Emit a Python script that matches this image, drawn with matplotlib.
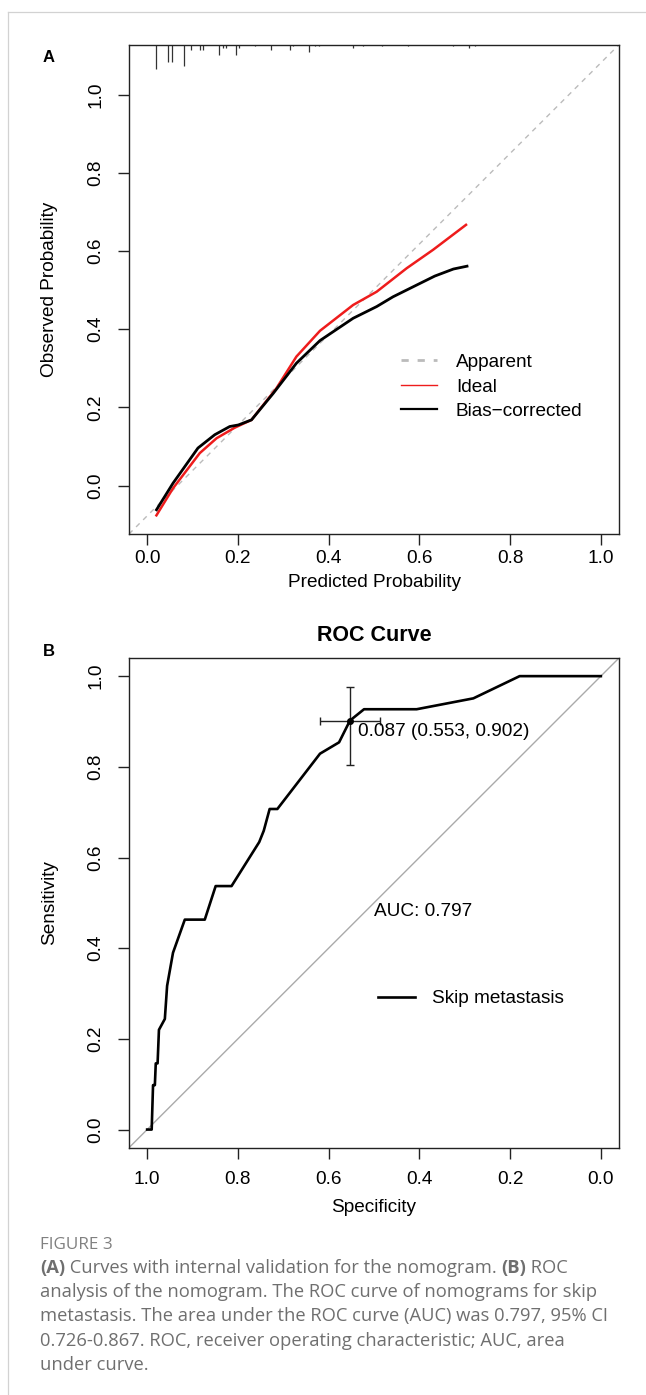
import numpy as np
import matplotlib
matplotlib.use("Agg")
from matplotlib import pyplot as plt
from matplotlib.lines import Line2D

plt.rcParams['font.family'] = ['Liberation Sans', 'DejaVu Sans']

#======================================================================================================
# Panel A: calibration curves (predicted vs observed probability)
pred_ideal = [0.019, 0.057, 0.116, 0.153, 0.193, 0.230, 0.285, 0.329, 0.381, 0.454, 0.506, 0.572, 0.630, 0.705]
obs_ideal  = [-0.079, -0.007, 0.083, 0.121, 0.148, 0.168, 0.249, 0.330, 0.396, 0.462, 0.496, 0.556, 0.603, 0.669]

pred_bias  = [0.019, 0.057, 0.112, 0.149, 0.182, 0.201, 0.230, 0.278, 0.329, 0.381, 0.454, 0.506, 0.542, 0.594, 0.634, 0.675, 0.708]
obs_bias   = [-0.065, 0.006, 0.096, 0.130, 0.151, 0.155, 0.168, 0.236, 0.313, 0.371, 0.428, 0.458, 0.483, 0.513, 0.536, 0.554, 0.562]

# distribution of predicted probabilities (rug at top of panel A)
rug_pred  = [0.019, 0.046, 0.054, 0.082, 0.096, 0.117, 0.123, 0.159, 0.168, 0.174, 0.195, 0.202, 0.237,
             0.272, 0.314, 0.321, 0.356, 0.371, 0.378, 0.454, 0.476, 0.518, 0.575, 0.674, 0.709, 0.722]
rug_count = [14, 10, 10, 12, 3, 3, 3, 6, 2, 2, 6, 2, 1, 3, 3, 1, 4, 1, 1, 2, 1, 1, 1, 1, 2, 1]

# Panel B: ROC curve
specificity = [1.000, 0.990, 0.987, 0.983, 0.981, 0.977, 0.974, 0.961, 0.956, 0.943, 0.917, 0.873, 0.849,
               0.814, 0.753, 0.743, 0.730, 0.713, 0.619, 0.577, 0.553, 0.522, 0.406, 0.281, 0.179, 0.000]
sensitivity = [0.000, 0.000, 0.098, 0.098, 0.146, 0.146, 0.220, 0.244, 0.317, 0.390, 0.463, 0.463, 0.537,
               0.537, 0.634, 0.659, 0.707, 0.707, 0.829, 0.854, 0.902, 0.927, 0.927, 0.951, 1.000, 1.000]
best_thr  = 0.087
best_spec = 0.553
best_sens = 0.902
spec_ci   = [0.487, 0.619]
sens_ci   = [0.805, 0.975]
auc       = 0.797

caption_head = "FIGURE 3"
caption_lines = [
    [("(A)", "bold"), (" Curves with internal validation for the nomogram. ", "normal"), ("(B)", "bold"), (" ROC", "normal")],
    [("analysis of the nomogram. The ROC curve of nomograms for skip", "normal")],
    [("metastasis. The area under the ROC curve (AUC) was 0.797, 95% CI", "normal")],
    [("0.726-0.867. ROC, receiver operating characteristic; AUC, area", "normal")],
    [("under curve.", "normal")],
]

#======================================================================================================
W, H = 646, 1395
FS = 13.7


def style_axes(ax):
    for s in ax.spines.values():
        s.set_linewidth(1.0)
        s.set_color('#222222')
    ax.set_xticks(np.arange(0, 1.01, 0.2))
    ax.set_yticks(np.arange(0, 1.01, 0.2))
    ax.set_xticklabels([f"{v:.1f}" for v in np.arange(0, 1.01, 0.2)])
    ax.set_yticklabels([f"{v:.1f}" for v in np.arange(0, 1.01, 0.2)], rotation=90, va='center')
    ax.tick_params(length=8.2, width=1.0, color='#222222', labelsize=FS)


def draw_calibration(ax):
    ax.set_xlim(-0.04, 1.04)
    ax.set_ylim(-0.124, 1.128)
    style_axes(ax)
    ax.tick_params(axis='x', pad=3.5)
    ax.tick_params(axis='y', pad=9.5)

    ax.plot([0, 1], [0, 1], transform=ax.transAxes, color='#bbbbbb', lw=1.0, dashes=(3.6, 3.6))
    ax.plot(pred_ideal, obs_ideal, color='#ee1c1c', lw=1.8, solid_capstyle='butt')
    ax.plot(pred_bias, obs_bias, color='black', lw=2.0, solid_capstyle='butt')

    top = ax.get_ylim()[1]
    seg = np.array(rug_count) * 0.0045
    ax.vlines(rug_pred, top - seg, top, color='#333333', lw=0.9)

    handles = [Line2D([], [], color='#bbbbbb', lw=2.0, dashes=(2.6, 3.2)),
               Line2D([], [], color='#ee1c1c', lw=1.0),
               Line2D([], [], color='black', lw=1.6)]
    ax.legend(handles, ['Apparent', 'Ideal', 'Bias\u2212corrected'], loc='upper left',
              bbox_to_anchor=(0.536, 0.388), frameon=False, fontsize=FS, borderpad=0,
              handlelength=1.87, handletextpad=1.0, labelspacing=0.38)

    ax.set_xlabel('Predicted Probability', fontsize=FS)
    ax.set_ylabel('Observed Probability', fontsize=FS)
    ax.xaxis.set_label_coords(0.5, -0.081)
    ax.yaxis.set_label_coords(-0.145, 0.5)


def draw_roc(ax):
    ax.set_xlim(1.04, -0.04)
    ax.set_ylim(-0.04, 1.04)
    style_axes(ax)
    ax.tick_params(axis='x', pad=8.5)
    ax.tick_params(axis='y', pad=9.5)

    ax.axline((1, 0), (0, 1), color='#aaaaaa', lw=1.0)
    ax.plot(specificity, sensitivity, color='black', lw=1.9, label='Skip metastasis')

    ax.errorbar(best_spec, best_sens,
                xerr=[[spec_ci[1] - best_spec], [best_spec - spec_ci[0]]],
                yerr=[[best_sens - sens_ci[0]], [sens_ci[1] - best_sens]],
                fmt='o', ms=4, color='black', ecolor='#222222', elinewidth=1.0, capsize=2.6, capthick=1.0)
    ax.annotate(f"{best_thr:.3f} ({best_spec:.3f}, {best_sens:.3f})", (best_spec, best_sens),
                xytext=(5.5, -8.0), textcoords='offset points', ha='left', va='center', fontsize=FS)
    ax.text(0.5, 0.5, f"AUC: {auc:.3f}", ha='left', va='top', fontsize=FS)

    ax.legend(loc='center left', bbox_to_anchor=(0.488, 0.304), frameon=False, fontsize=FS,
              borderpad=0, handlelength=1.97, handletextpad=0.9)

    ax.set_title('ROC Curve', fontsize=15.5, fontweight='bold', pad=12)
    ax.set_xlabel('Specificity', fontsize=FS)
    ax.set_ylabel('Sensitivity', fontsize=FS)
    ax.xaxis.set_label_coords(0.5, -0.105)
    ax.yaxis.set_label_coords(-0.145, 0.5)


def draw_caption(fig):
    renderer = fig.canvas.get_renderer()
    gray = '#6f6f6f'
    fig.text(40 / W, 1 - 1245 / H, caption_head, fontsize=12.3, color='#808080', va='center',
             family=['Open Sans', 'DejaVu Sans'])
    for i, parts in enumerate(caption_lines):
        x = 40 / W
        y = 1 - (1268.3 + 24.1 * i) / H
        for txt, weight in parts:
            t = fig.text(x, y, txt, fontsize=13.2, color=gray, fontweight=weight, va='center',
                         family=['Open Sans', 'DejaVu Sans'])
            bb = t.get_window_extent(renderer)
            x += bb.width / fig.bbox.width


def main():
    fig = plt.figure(figsize=(W / 100, H / 100), dpi=100)
    ax_a = fig.add_axes([129 / W, 1 - 534 / H, 490 / W, 489.3 / H])
    ax_b = fig.add_axes([129 / W, 1 - 1147.7 / H, 490 / W, 489.7 / H])

    draw_calibration(ax_a)
    draw_roc(ax_b)

    fig.text(49 / W, 1 - 58 / H, 'A', fontsize=12, fontweight='bold', ha='center', va='center')
    fig.text(49 / W, 1 - 651.7 / H, 'B', fontsize=12, fontweight='bold', ha='center', va='center')

    # thin frame of the figure panel
    fig.add_artist(Line2D([8 / W, 8 / W], [0, 1 - 12 / H], color='#d2d2d2', lw=0.9))
    fig.add_artist(Line2D([8 / W, 1], [1 - 12 / H, 1 - 12 / H], color='#d2d2d2', lw=0.9))

    draw_caption(fig)
    fig.savefig('out.png', dpi=100)


if __name__ == "__main__":
    main()
